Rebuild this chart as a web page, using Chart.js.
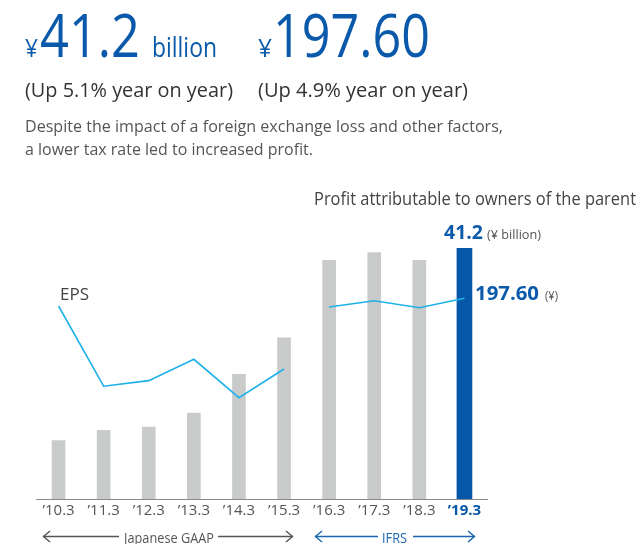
<!DOCTYPE html>
<html><head><meta charset="utf-8">
<script src="https://cdn.jsdelivr.net/npm/chart.js@4.4.0/dist/chart.umd.min.js"></script>
<style>
html,body{margin:0;padding:0;background:#fff;}
#wrap{position:relative;width:640px;height:544px;overflow:hidden;background:#fff;}
#c{position:absolute;left:0;top:0;}
svg{position:absolute;left:0;top:0;}
svg text{font-family:"Open Sans","Noto Sans",sans-serif;}
</style></head><body>
<div id="wrap">
<canvas id="c" width="640" height="544"></canvas>
<svg width="640" height="544" xmlns="http://www.w3.org/2000/svg">
  <text x="25" y="57" font-size="26" fill="#0b59aa" textLength="13" lengthAdjust="spacingAndGlyphs">¥</text>
  <text x="40" y="57" font-size="61" fill="#0b59aa" textLength="100" lengthAdjust="spacingAndGlyphs">41.2</text>
  <text x="152" y="57" font-size="27" fill="#0b59aa" textLength="65" lengthAdjust="spacingAndGlyphs">billion</text>
  <text x="258" y="57" font-size="26" fill="#0b59aa" textLength="14" lengthAdjust="spacingAndGlyphs">¥</text>
  <text x="273" y="57" font-size="61" fill="#0b59aa" textLength="157" lengthAdjust="spacingAndGlyphs">197.60</text>

  <text x="25" y="97" font-size="20" fill="#333" textLength="208" lengthAdjust="spacingAndGlyphs">(Up 5.1% year on year)</text>
  <text x="258" y="97" font-size="20" fill="#333" textLength="210" lengthAdjust="spacingAndGlyphs">(Up 4.9% year on year)</text>
  <text x="25" y="131.5" font-size="17" fill="#555" textLength="478" lengthAdjust="spacingAndGlyphs">Despite the impact of a foreign exchange loss and other factors,</text>
  <text x="25" y="154.5" font-size="17" fill="#555" textLength="288" lengthAdjust="spacingAndGlyphs">a lower tax rate led to increased profit.</text>

  <text x="314" y="205" font-size="17.5" fill="#444" textLength="322" lengthAdjust="spacingAndGlyphs">Profit attributable to owners of the parent</text>
  <text x="444" y="239" font-size="20" font-weight="bold" fill="#0b59aa" textLength="39" lengthAdjust="spacingAndGlyphs">41.2</text>
  <text x="487" y="239" font-size="12.5" fill="#555" textLength="54" lengthAdjust="spacingAndGlyphs">(¥ billion)</text>
  <text x="475" y="300" font-size="20" font-weight="bold" fill="#0b59aa" textLength="64" lengthAdjust="spacingAndGlyphs">197.60</text>
  <text x="545" y="300" font-size="12.5" fill="#555" textLength="13" lengthAdjust="spacingAndGlyphs">(¥)</text>
  <text x="60" y="300" font-size="17" fill="#444" textLength="29" lengthAdjust="spacingAndGlyphs">EPS</text>

  <g stroke="#555" stroke-width="1.4" fill="none">
    <line x1="43" y1="536.5" x2="119" y2="536.5"/>
    <line x1="218" y1="536.5" x2="293" y2="536.5"/>
    <polyline points="50,531 43.5,536.5 50,542"/>
    <polyline points="286,531 292.5,536.5 286,542"/>
  </g>
  <text x="124" y="543" font-size="15" fill="#555" textLength="90" lengthAdjust="spacingAndGlyphs">Japanese GAAP</text>
  <g stroke="#1a64b0" stroke-width="1.4" fill="none">
    <line x1="315" y1="536.5" x2="378" y2="536.5"/>
    <line x1="413" y1="536.5" x2="475" y2="536.5"/>
    <polyline points="322,531 315.5,536.5 322,542"/>
    <polyline points="468,531 474.5,536.5 468,542"/>
  </g>
  <text x="382" y="543" font-size="15" fill="#1a64b0" textLength="25" lengthAdjust="spacingAndGlyphs">IFRS</text>
</svg>
</div>
<script>
const categories = ['\u201910.3','\u201911.3','\u201912.3','\u201913.3','\u201914.3','\u201915.3','\u201916.3','\u201917.3','\u201918.3','\u201919.3'];
// Profit attributable to owners of the parent (¥ billion)
const profit = [9.6, 11.3, 11.8, 14.1, 20.5, 26.5, 39.2, 40.5, 39.2, 41.2];
// EPS (¥) under Japanese GAAP ('10.3–'15.3)
const epsGaap = [190, 111, 116.5, 137.5, 99.7, 128];
// EPS (¥) under IFRS ('16.3–'19.3)
const epsIfrs = [189, 195.2, 188.3, 197.6];
const highlightIndex = 9;

const grayBars = profit.map((v, i) => i === highlightIndex ? null : v);
const blueBar = profit.map((v, i) => i === highlightIndex ? v : null);
const epsGaapSeries = categories.map((_, i) => i < epsGaap.length ? epsGaap[i] : null);
const epsIfrsSeries = categories.map((_, i) => i >= epsGaap.length ? epsIfrs[i - epsGaap.length] : null);

const BLUE = '#0757a8';
const narrow = "'Liberation Sans Narrow','Open Sans',sans-serif";

new Chart(document.getElementById('c'), {
  data: {
    labels: categories,
    datasets: [
      { type: 'line', data: epsGaapSeries, yAxisID: 'yEps', borderColor: '#1fb1e9', borderWidth: 1.6,
        pointRadius: 0, tension: 0, spanGaps: false, order: 0 },
      { type: 'line', data: epsIfrsSeries, yAxisID: 'yEps', borderColor: '#1fb1e9', borderWidth: 1.6,
        pointRadius: 0, tension: 0, spanGaps: false, order: 0 },
      { type: 'bar', data: grayBars, yAxisID: 'yBar', backgroundColor: '#c9caca', barThickness: 13, grouped: false, order: 1 },
      { type: 'bar', data: blueBar, yAxisID: 'yBar', backgroundColor: BLUE, barThickness: 15, grouped: false, order: 1 }
    ]
  },
  options: {
    responsive: false,
    animation: false,
    devicePixelRatio: 1,
    layout: { padding: { left: 36, right: 153, top: 230, bottom: 21 } },
    plugins: { legend: { display: false }, tooltip: { enabled: false } },
    scales: {
      x: {
        offset: true,
        grid: { display: false, drawTicks: false },
        border: { display: true, color: '#8a8a8a', width: 1 },
        ticks: {
          padding: 3,
          autoSkip: false,
          maxRotation: 0,
          color: ctx => ctx.index === highlightIndex ? BLUE : '#555',
          font: ctx => ({ family: narrow, size: 15, weight: ctx.index === highlightIndex ? 'bold' : 'normal' })
        }
      },
      yBar: { display: false, min: 0, max: 44.2 },
      yEps: { display: false, min: 0, max: 264.8 }
    }
  }
});
</script>
</body></html>
